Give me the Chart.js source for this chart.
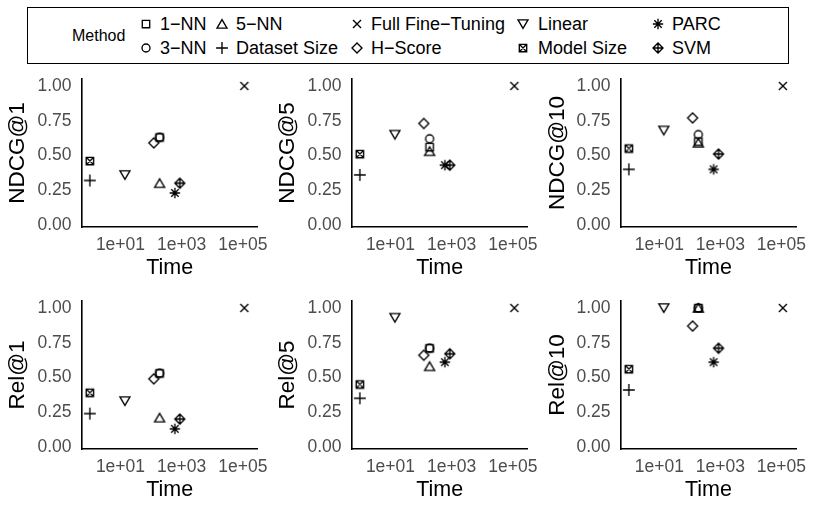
<!DOCTYPE html>
<html>
<head>
<meta charset="utf-8">
<script src="https://cdn.jsdelivr.net/npm/chart.js@4.4.1/dist/chart.umd.min.js"></script>
<style>
  body { margin: 0; background: #fff; font-family: "Liberation Sans", Arial, sans-serif; }
  #fig { position: relative; width: 814px; height: 520px; overflow: hidden; background: #fff; }
  #legendBox { position: absolute; left: 27px; top: 7px; width: 760px; height: 55px; border: 1.5px solid #000; }
  .lg { position: absolute; font-size: 18px; line-height: 20px; white-space: nowrap; color: #000; }
  .mk { position: absolute; }
  canvas.panel { position: absolute; }
</style>
</head>
<body>
<div id="fig">
  <div id="legendBox"></div>
</div>
<script>
  "use strict";

  // methods, in legend order
  const methods = ["1−NN", "3−NN", "5−NN", "Dataset Size", "Full Fine−Tuning",
    "H−Score", "Linear", "Model Size", "PARC", "SVM"];
  const shapes = ["square", "circle", "triangleUp", "plus", "cross",
    "diamond", "triangleDown", "squareCross", "asterisk", "diamondPlus"];
  const times = [190, 190, 190, 1, 112000, 123, 14, 1, 600, 870];

  // metric values per method (same order as methods)
  const metricNames = ["NDCG@1", "NDCG@5", "NDCG@10", "Rel@1", "Rel@5", "Rel@10"];
  const ndcg1 = [0.63, 0.63, 0.30, 0.32, 1.00, 0.59, 0.36, 0.46, 0.23, 0.30];
  const ndcg5 = [0.56, 0.62, 0.53, 0.36, 1.00, 0.73, 0.65, 0.51, 0.43, 0.43];
  const ndcg10 = [0.60, 0.65, 0.59, 0.40, 1.00, 0.77, 0.68, 0.55, 0.40, 0.51];
  const rel1 = [0.53, 0.53, 0.21, 0.24, 1.00, 0.49, 0.33, 0.39, 0.13, 0.20];
  const rel5 = [0.71, 0.71, 0.58, 0.35, 1.00, 0.66, 0.93, 0.45, 0.61, 0.67];
  const rel10 = [1.00, 1.00, 1.00, 0.41, 1.00, 0.87, 1.00, 0.56, 0.61, 0.71];
  const metricValues = [ndcg1, ndcg5, ndcg10, rel1, rel5, rel10];

  const xTickValues = [10, 1000, 100000];
  const xTickLabels = ["1e+01", "1e+03", "1e+05"];
  const yTickValues = [0, 0.25, 0.5, 0.75, 1];
  const yTickLabels = ["0.00", "0.25", "0.50", "0.75", "1.00"];

  const FONT = "'Liberation Sans', Arial, sans-serif";

  function drawMarker(ctx, shape, cx, cy) {
    ctx.save();
    ctx.strokeStyle = "#000";
    ctx.lineWidth = 1.35;
    ctx.beginPath();
    const line = (x1, y1, x2, y2) => { ctx.moveTo(cx + x1, cy + y1); ctx.lineTo(cx + x2, cy + y2); };
    const diamond = (r) => {
      ctx.moveTo(cx, cy - r); ctx.lineTo(cx + r, cy); ctx.lineTo(cx, cy + r); ctx.lineTo(cx - r, cy); ctx.closePath();
    };
    switch (shape) {
      case "square": ctx.rect(cx - 3.7, cy - 3.7, 7.4, 7.4); break;
      case "circle": ctx.arc(cx, cy, 4, 0, Math.PI * 2); break;
      case "triangleUp":
        ctx.moveTo(cx, cy - 4.4); ctx.lineTo(cx + 5, cy + 4.1); ctx.lineTo(cx - 5, cy + 4.1); ctx.closePath(); break;
      case "triangleDown":
        ctx.moveTo(cx, cy + 4.4); ctx.lineTo(cx + 5, cy - 4.1); ctx.lineTo(cx - 5, cy - 4.1); ctx.closePath(); break;
      case "plus": line(-5.9, 0, 5.9, 0); line(0, -5.9, 0, 5.9); break;
      case "cross": line(-4, -4, 4, 4); line(-4, 4, 4, -4); break;
      case "diamond": diamond(5); break;
      case "squareCross":
        ctx.rect(cx - 3.7, cy - 3.7, 7.4, 7.4); line(-3.7, -3.7, 3.7, 3.7); line(-3.7, 3.7, 3.7, -3.7); break;
      case "asterisk":
        line(-5.2, 0, 5.2, 0); line(0, -5.2, 0, 5.2); line(-3.7, -3.7, 3.7, 3.7); line(-3.7, 3.7, 3.7, -3.7); break;
      case "diamondPlus": diamond(5); line(-5, 0, 5, 0); line(0, -5, 0, 5); break;
    }
    ctx.stroke();
    ctx.restore();
  }

  function markerCanvas(shape) {
    const c = document.createElement("canvas");
    c.width = 16; c.height = 16;
    drawMarker(c.getContext("2d"), shape, 8, 8);
    return c;
  }
  const markerImgs = shapes.map(markerCanvas);

  // legend
  const fig = document.getElementById("fig");
  const legendMarkerX = [146, 222, 357, 523, 658];
  const legendLabelX = [160, 236, 371, 538, 672];
  const legendRowY = [24, 48];

  const title = document.createElement("div");
  title.className = "lg";
  title.style.fontSize = "16px";
  title.style.left = "72px";
  title.style.top = (36 - 10) + "px";
  title.textContent = "Method";
  fig.appendChild(title);

  methods.forEach((name, k) => {
    const col = Math.floor(k / 2), row = k % 2;
    const mk = markerCanvas(shapes[k]);
    mk.className = "mk";
    mk.style.left = (legendMarkerX[col] - 8) + "px";
    mk.style.top = (legendRowY[row] - 8) + "px";
    fig.appendChild(mk);
    const lab = document.createElement("div");
    lab.className = "lg";
    lab.style.left = legendLabelX[col] + "px";
    lab.style.top = (legendRowY[row] - 10) + "px";
    lab.textContent = name;
    fig.appendChild(lab);
  });

  // panels
  metricNames.forEach((metric, p) => {
    const col = p % 3, row = Math.floor(p / 3);
    const w = col === 2 ? 274 : 270;
    const canvas = document.createElement("canvas");
    canvas.className = "panel";
    canvas.width = w; canvas.height = 220;
    canvas.style.left = (col * 270) + "px";
    canvas.style.top = (row === 0 ? 70 : 292) + "px";
    canvas.style.width = w + "px";
    canvas.style.height = "220px";
    fig.appendChild(canvas);

    const yAxisWidth = col === 2 ? 81 : 82;
    const rightPad = col === 2 ? 18 : 12.5;
    const values = metricValues[p];

    new Chart(canvas, {
      type: "scatter",
      data: {
        datasets: methods.map((name, k) => ({
          label: name,
          data: [{ x: times[k], y: values[k] }],
          pointStyle: markerImgs[k],
          pointRadius: 5,
          pointHoverRadius: 5,
          clip: false,
        })),
      },
      options: {
        responsive: false,
        animation: false,
        events: [],
        layout: { padding: { left: 0, top: 9, right: rightPad, bottom: 0 } },
        plugins: { legend: { display: false }, tooltip: { enabled: false } },
        scales: {
          x: {
            type: "logarithmic",
            min: Math.pow(10, -0.257),
            max: Math.pow(10, 5.48),
            bounds: "data",
            grid: { display: false, drawTicks: false },
            border: { display: true, color: "#000", width: 1.6 },
            afterBuildTicks: (scale) => { scale.ticks = xTickValues.map((v) => ({ value: v })); },
            afterFit: (scale) => {
              scale.height = 63;
              scale.paddingLeft = 0; scale.paddingRight = 0;
              scale.paddingTop = 0; scale.paddingBottom = 0;
            },
            ticks: {
              autoSkip: false,
              maxRotation: 0,
              padding: 7.8,
              color: "#4d4d4d",
              font: { family: FONT, size: 17.5 },
              callback: (v, i) => xTickLabels[i],
            },
            title: {
              display: true,
              text: "Time",
              color: "#000",
              font: { family: FONT, size: 21.5 },
              padding: { top: 0, bottom: 8.6 },
            },
          },
          y: {
            type: "linear",
            min: -0.015,
            max: 1.05,
            bounds: "data",
            grid: { display: false, drawTicks: false },
            border: { display: true, color: "#000", width: 1.6 },
            afterBuildTicks: (scale) => { scale.ticks = yTickValues.map((v) => ({ value: v })); },
            afterFit: (scale) => {
              scale.width = yAxisWidth;
              scale.paddingLeft = 0; scale.paddingRight = 0;
              scale.paddingTop = 0; scale.paddingBottom = 0;
            },
            ticks: {
              padding: 10.5,
              color: "#4d4d4d",
              font: { family: FONT, size: 17.5 },
              callback: (v, i) => yTickLabels[i],
            },
            title: {
              display: true,
              text: metric,
              color: "#000",
              font: { family: FONT, size: 22.5 },
              padding: { top: 4.5, bottom: 0 },
            },
          },
        },
      },
    });
  });
</script>
</body>
</html>
